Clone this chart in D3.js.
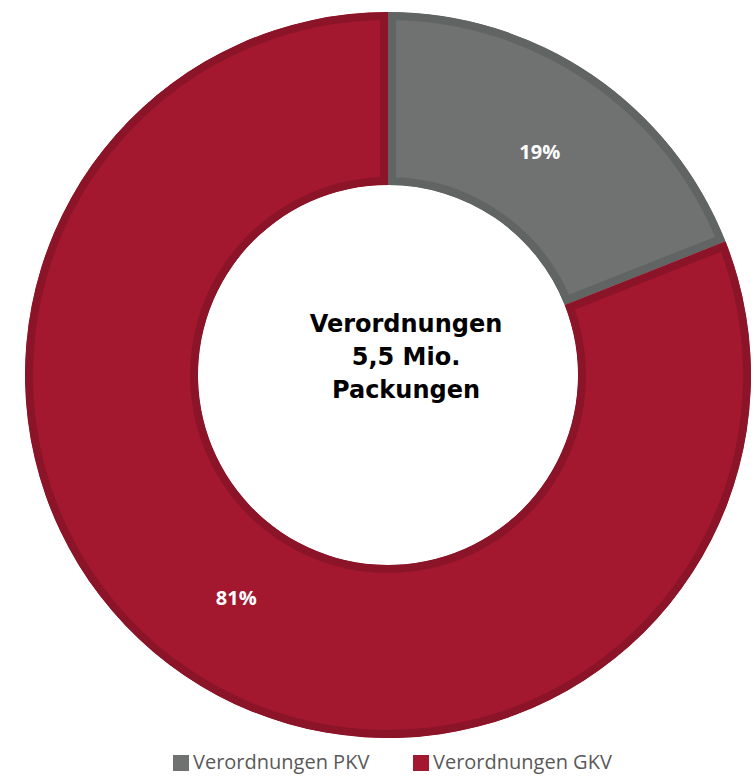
<!DOCTYPE html>
<html lang="de">
<head>
<meta charset="UTF-8" />
<title>Verordnungen</title>
<script src="https://cdn.jsdelivr.net/npm/d3@7"></script>
<style>
  body { margin: 0; background: #fff; }
  svg { display: block; }
</style>
</head>
<body>
<svg id="chart" width="756" height="776"></svg>
<script>
// data
const categories = ["Verordnungen PKV", "Verordnungen GKV"];
const shares = [19, 81];
const centerLines = ["Verordnungen", "5,5 Mio.", "Packungen"];

const fills = ["#6f7270", "#a3182f"];
const borders = ["#606462", "#8c1429"];

const svg = d3.select("#chart");
const cx = 388, cy = 375, outerR = 363, innerR = 190;

const pie = d3.pie().sort(null).value(d => d.v);
const arcs = pie(shares.map((v, i) => ({ v, i })));
const arc = d3.arc().innerRadius(innerR).outerRadius(outerR);
const labelArc = d3.arc().innerRadius(270).outerRadius(270);

const g = svg.append("g").attr("transform", `translate(${cx},${cy})`);
const defs = svg.append("defs");

arcs.forEach((a, k) => {
  defs.append("clipPath").attr("id", "clip" + k)
    .append("path").attr("d", arc(a));
});

// slices with inset darker border (stroke clipped to the slice)
g.selectAll("path.slice")
  .data(arcs)
  .join("path")
  .attr("class", "slice")
  .attr("d", arc)
  .attr("fill", d => fills[d.data.i])
  .attr("stroke", d => borders[d.data.i])
  .attr("stroke-width", 16)
  .attr("clip-path", (d, k) => `url(#clip${k})`);

// percent labels
g.selectAll("text.pct")
  .data(arcs)
  .join("text")
  .attr("class", "pct")
  .attr("transform", d => `translate(${labelArc.centroid(d)})`)
  .attr("text-anchor", "middle")
  .attr("dy", "0.35em")
  .attr("fill", "#fff")
  .style("font-family", "'Open Sans', sans-serif")
  .style("font-weight", 700)
  .style("font-size", "20px")
  .text(d => d.data.v + "%");

// center text
g.append("text")
  .attr("text-anchor", "middle")
  .style("font-family", "'DejaVu Sans', sans-serif")
  .style("font-weight", 700)
  .style("font-size", "24px")
  .attr("fill", "#000")
  .selectAll("tspan")
  .data(centerLines)
  .join("tspan")
  .attr("x", 18)
  .attr("y", (d, i) => -43 + i * 33)
  .text(d => d);

// legend
const legendX = [173, 413];
const legend = svg.append("g").attr("transform", "translate(0,762)");
const items = legend.selectAll("g")
  .data(categories)
  .join("g")
  .attr("transform", (d, i) => `translate(${legendX[i]},0)`);
items.append("rect")
  .attr("x", 0).attr("y", -7)
  .attr("width", 16).attr("height", 16)
  .attr("fill", (d, i) => fills[i]);
items.append("text")
  .attr("x", 20)
  .attr("dy", "0.35em")
  .attr("fill", "#595959")
  .style("font-family", "'Open Sans', sans-serif")
  .style("font-size", "20px")
  .text(d => d);
</script>
</body>
</html>
